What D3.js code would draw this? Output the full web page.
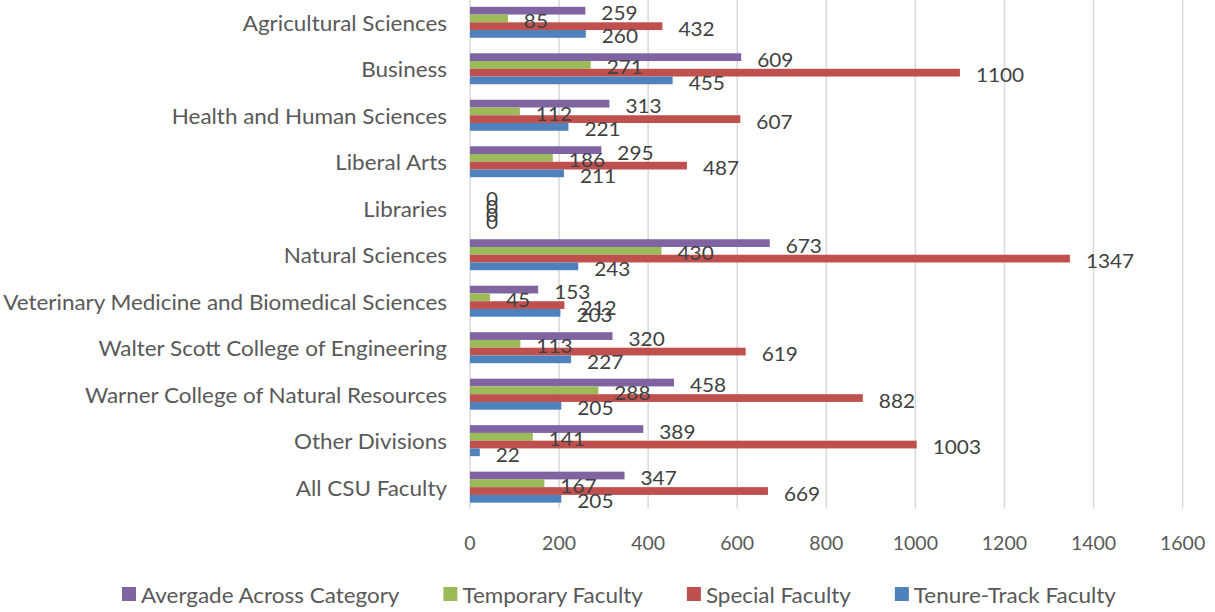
<!DOCTYPE html>
<html>
<head>
<meta charset="utf-8">
<script src="https://cdn.jsdelivr.net/npm/d3@7"></script>
<style>
  html, body { margin: 0; padding: 0; background: #fff; }
  svg { display: block; font-family: Lato, "Open Sans", sans-serif; }
</style>
</head>
<body>
<svg id="chart" width="1215" height="612"></svg>
<script>
const categories = [
  "Agricultural Sciences", "Business", "Health and Human Sciences", "Liberal Arts",
  "Libraries", "Natural Sciences", "Veterinary Medicine and Biomedical Sciences",
  "Walter Scott College of Engineering", "Warner College of Natural Resources",
  "Other Divisions", "All CSU Faculty"
];
const seriesNames = ["Avergade Across Category", "Temporary Faculty", "Special Faculty", "Tenure-Track Faculty"];
const seriesColors = ["#8064A2", "#9BBB59", "#C0504D", "#4F81BD"];
const averageValues   = [259, 609, 313, 295, 0, 673, 153, 320, 458, 389, 347];
const temporaryValues = [85, 271, 112, 186, 0, 430, 45, 113, 288, 141, 167];
const specialValues   = [432, 1100, 607, 487, 0, 1347, 212, 619, 882, 1003, 669];
const tenureValues    = [260, 455, 221, 211, 0, 243, 203, 227, 205, 22, 205];
const xTicks = [0, 200, 400, 600, 800, 1000, 1200, 1400, 1600];

const seriesValues = [averageValues, temporaryValues, specialValues, tenureValues];

const svg = d3.select("#chart");
const plotLeft = 470, plotRight = 1182.6, plotTop = -0.95, plotBottom = 510.4;
const stretch = 1.068;

function widen(sel, k) {
  sel.each(function() {
    const n = this.getComputedTextLength();
    d3.select(this).attr("textLength", n * k).attr("lengthAdjust", "spacingAndGlyphs");
  });
}

const x = d3.scaleLinear().domain([0, 1600]).range([plotLeft, plotRight]);
const y0 = d3.scaleBand().domain(categories).range([plotTop, plotBottom])
  .paddingInner(1/3).paddingOuter(1/6);
const y1 = d3.scaleBand().domain(seriesNames).range([0, y0.bandwidth()]);

// gridlines
svg.append("g").selectAll("line").data(xTicks).join("line")
  .attr("x1", d => x(d)).attr("x2", d => x(d))
  .attr("y1", 0).attr("y2", plotBottom - 2)
  .attr("stroke", "#d9d9d9").attr("stroke-width", 1.5);

// tick labels
svg.append("g").selectAll("text").data(xTicks).join("text")
  .attr("x", d => x(d)).attr("y", 542)
  .attr("text-anchor", "middle").attr("dominant-baseline", "central")
  .attr("fill", "#595959").attr("font-size", 19.5)
  .text(d => d);

// category labels
svg.append("g").selectAll("text").data(categories).join("text")
  .attr("x", 447).attr("y", d => y0(d) + y0.bandwidth() / 2)
  .attr("text-anchor", "end").attr("dominant-baseline", "central")
  .attr("fill", "#595959").attr("font-size", 21)
  .text(d => d)
  .call(widen, stretch);

// bars
const groups = svg.append("g").selectAll("g").data(categories).join("g")
  .attr("transform", d => `translate(0,${y0(d)})`);

groups.each(function(cat, ci) {
  const g = d3.select(this);
  seriesNames.forEach((s, si) => {
    const v = seriesValues[si][ci];
    g.append("rect")
      .attr("x", x(0)).attr("y", y1(s))
      .attr("width", Math.max(0, x(v) - x(0))).attr("height", y1.bandwidth())
      .attr("fill", seriesColors[si]);
  });
});

// data labels
groups.each(function(cat, ci) {
  const g = d3.select(this);
  seriesNames.forEach((s, si) => {
    const v = seriesValues[si][ci];
    g.append("text")
      .attr("x", x(v) + 16).attr("y", y1(s) + y1.bandwidth() / 2 + 1.5)
      .attr("dominant-baseline", "central")
      .attr("fill", "#404040").attr("font-size", 20)
      .text(v)
      .call(widen, 1.04);
  });
});

// legend
const legend = svg.append("g");
let lx = 122;
seriesNames.forEach((s, i) => {
  legend.append("rect").attr("x", lx).attr("y", 587).attr("width", 14).attr("height", 14)
    .attr("fill", seriesColors[i]);
  const t = legend.append("text").attr("x", lx + 19).attr("y", 594.5)
    .attr("dominant-baseline", "central").attr("fill", "#595959").attr("font-size", 21)
    .text(s);
  const w = t.node().getComputedTextLength() * stretch;
  t.attr("textLength", w).attr("lengthAdjust", "spacingAndGlyphs");
  lx += 19 + w + 44;
});
</script>
</body>
</html>
